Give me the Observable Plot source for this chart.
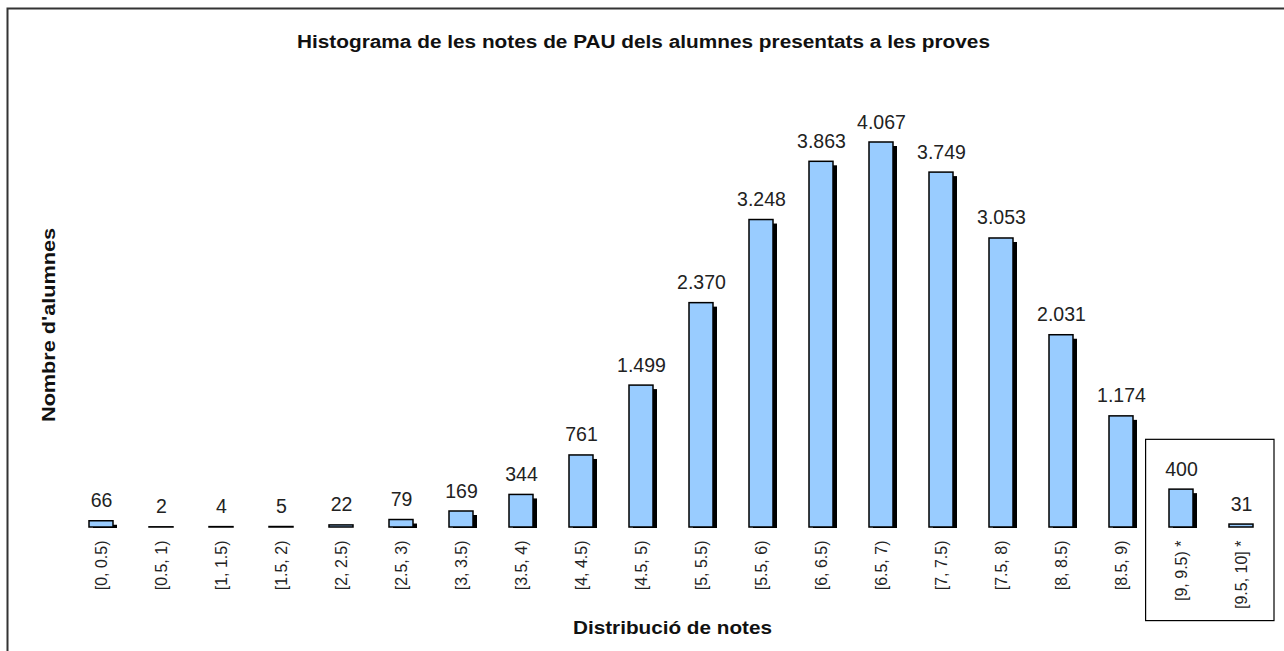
<!DOCTYPE html>
<html>
<head>
<meta charset="utf-8">
<script src="https://cdn.jsdelivr.net/npm/d3@7"></script>
<script src="https://cdn.jsdelivr.net/npm/@observablehq/plot@0.6"></script>
<style>
  html, body { margin: 0; padding: 0; background: white; }
</style>
</head>
<body>
<div id="chart"></div>
<script>
const bins = ["[0, 0.5)", "[0.5, 1)", "[1, 1.5)", "[1.5, 2)", "[2, 2.5)", "[2.5, 3)", "[3, 3.5)", "[3.5, 4)", "[4, 4.5)", "[4.5, 5)", "[5, 5.5)", "[5.5, 6)", "[6, 6.5)", "[6.5, 7)", "[7, 7.5)", "[7.5, 8)", "[8, 8.5)", "[8.5, 9)", "[9, 9.5) *", "[9.5, 10] *"];
const counts = [66, 2, 4, 5, 22, 79, 169, 344, 761, 1499, 2370, 3248, 3863, 4067, 3749, 3053, 2031, 1174, 400, 31];
const highlighted = ["[9, 9.5) *", "[9.5, 10] *"];
const titleText = "Histograma de les notes de PAU dels alumnes presentats a les proves";
const xTitle = "Distribució de notes";
const yTitle = "Nombre d'alumnes";

const data = bins.map((bin, i) => ({bin, count: counts[i]}));
const fmt = v => d3.format(",")(v).replace(/,/g, ".");
const FONT = "'Liberation Sans', Arial, Helvetica, sans-serif";

const plot = Plot.plot({
  width: 1284,
  height: 651,
  marginLeft: 68,
  marginRight: 10,
  marginTop: 142,
  marginBottom: 124,
  x: {domain: bins, paddingInner: 0.6, paddingOuter: 0.3, axis: null},
  y: {domain: [0, 4067], axis: null},
  style: {fontFamily: FONT, background: "white", overflow: "visible"},
  marks: [
    Plot.barY(data, {x: "bin", y: "count", fill: "black", dx: 4, dy: 1, insetTop: 3}),
    Plot.barY(data, {x: "bin", y: "count", fill: "#99ccff", stroke: "black", strokeWidth: 1.5}),
    Plot.text(data, {x: "bin", y: "count", text: d => fmt(d.count), lineAnchor: "bottom", dy: -14, fontSize: 19.5, fill: "#222"}),
    Plot.text(data, {x: "bin", frameAnchor: "bottom", text: "bin", rotate: -90, textAnchor: "end", lineAnchor: "middle", dy: 13, fontSize: 16, fill: "#222"})
  ]
});

const svg = d3.select(plot);
const xs = plot.scale("x");
const ys = plot.scale("y");
const bw = xs.bandwidth;
const step = xs.step;
const x0 = xs.apply(highlighted[0]) - step * 0.39;
const x1 = xs.apply(highlighted[1]) + bw + step * 0.35;
const yTop = ys.apply(counts[bins.indexOf(highlighted[0])]) - step * 0.83;
const yBot = ys.apply(0) + step * 1.56;

svg.append("rect")
  .attr("x", x0).attr("y", yTop)
  .attr("width", x1 - x0).attr("height", yBot - yTop)
  .attr("fill", "none").attr("stroke", "black").attr("stroke-width", 1.2);

svg.append("rect")
  .attr("x", 7.5).attr("y", 8.5)
  .attr("width", 1300).attr("height", 700)
  .attr("fill", "none").attr("stroke", "#333").attr("stroke-width", 2);

svg.append("text")
  .attr("x", 643.5).attr("y", 48)
  .attr("text-anchor", "middle")
  .attr("font-family", FONT).attr("font-weight", "bold").attr("font-size", 18)
  .attr("textLength", 693).attr("lengthAdjust", "spacingAndGlyphs")
  .attr("fill", "#111")
  .text(titleText);

svg.append("text")
  .attr("x", 672.5).attr("y", 634)
  .attr("text-anchor", "middle")
  .attr("font-family", FONT).attr("font-weight", "bold").attr("font-size", 19)
  .attr("textLength", 199).attr("lengthAdjust", "spacingAndGlyphs")
  .attr("fill", "#111")
  .text(xTitle);

svg.append("text")
  .attr("transform", "translate(55,325) rotate(-90)")
  .attr("text-anchor", "middle")
  .attr("font-family", FONT).attr("font-weight", "bold").attr("font-size", 19)
  .attr("textLength", 194).attr("lengthAdjust", "spacingAndGlyphs")
  .attr("fill", "#111")
  .text(yTitle);

document.getElementById("chart").appendChild(plot);
</script>
</body>
</html>
